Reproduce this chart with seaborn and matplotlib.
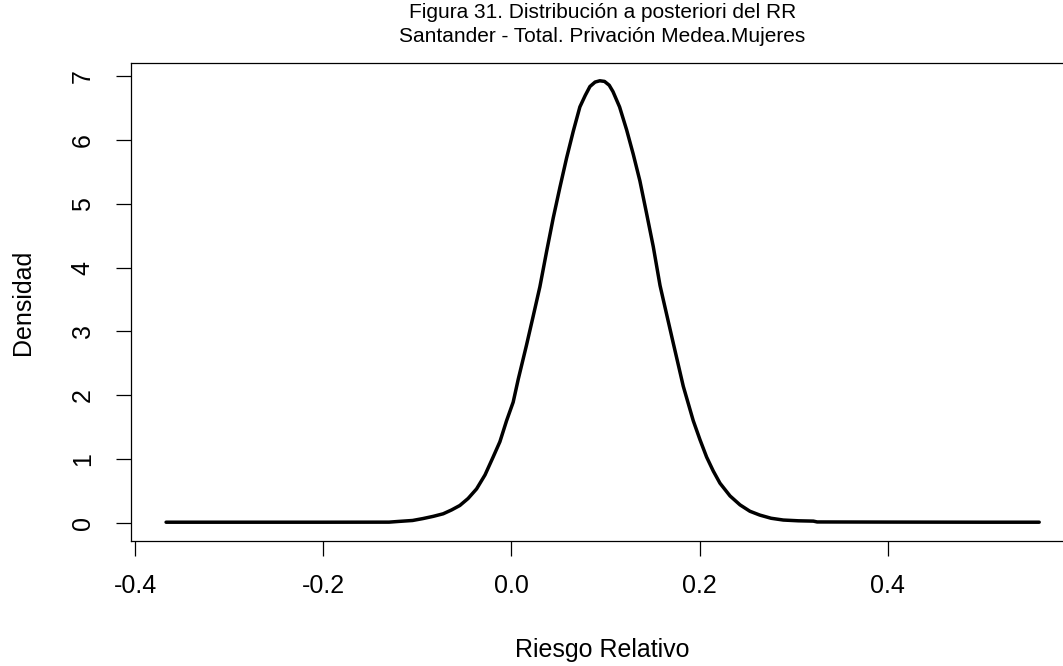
import matplotlib
matplotlib.use("Agg")
import matplotlib.pyplot as plt
import seaborn as sns
import pandas as pd

# ---- data ----
rr_values = [-0.367, -0.30, -0.20, -0.13, -0.12, -0.105, -0.094, -0.083, -0.0725,
             -0.0636, -0.0548, -0.046, -0.037, -0.028, -0.0194, -0.0122, -0.0051,
             0.0019, 0.0073, 0.016, 0.0232, 0.0303, 0.0374, 0.0445, 0.0516, 0.0587,
             0.0658, 0.0728, 0.0785, 0.0835, 0.089, 0.094, 0.099, 0.104, 0.108,
             0.115, 0.1225, 0.1295, 0.1366, 0.1437, 0.1508, 0.158, 0.1614, 0.172,
             0.1827, 0.1933, 0.2005, 0.2075, 0.2146, 0.2217, 0.2324, 0.243, 0.2535,
             0.264, 0.276, 0.289, 0.305, 0.321, 0.325, 0.40, 0.45, 0.50, 0.561]
density_values = [0.008, 0.008, 0.008, 0.009, 0.02, 0.035, 0.065, 0.10, 0.14,
                  0.20, 0.27, 0.38, 0.53, 0.75, 1.03, 1.27, 1.60,
                  1.89, 2.25, 2.78, 3.24, 3.70, 4.25, 4.78, 5.26, 5.72,
                  6.14, 6.52, 6.70, 6.84, 6.91, 6.93, 6.92, 6.86, 6.76,
                  6.52, 6.16, 5.78, 5.36, 4.85, 4.33, 3.72, 3.50, 2.82,
                  2.14, 1.60, 1.30, 1.03, 0.81, 0.62, 0.42, 0.28, 0.18,
                  0.12, 0.07, 0.042, 0.03, 0.025, 0.012, 0.01, 0.009, 0.008, 0.008]
x_ticks = [-0.4, -0.2, 0.0, 0.2, 0.4]
x_tick_labels = ["-0.4", "-0.2", "0.0", "0.2", "0.4"]
y_ticks = [0, 1, 2, 3, 4, 5, 6, 7]
y_tick_labels = ["0", "1", "2", "3", "4", "5", "6", "7"]
title_line1 = "Figura 31. Distribución a posteriori del RR"
title_line2 = "Santander - Total. Privación Medea.Mujeres"
x_label = "Riesgo Relativo"
y_label = "Densidad"

df = pd.DataFrame({"rr": rr_values, "dens": density_values})

sns.set_theme(style="white")
plt.rcParams["font.family"] = ["Liberation Sans", "DejaVu Sans"]
plt.rcParams["text.color"] = "black"

W, H = 1063, 666
fig = plt.figure(figsize=(W / 100, H / 100), dpi=100)
left_px, right_px, top_px, bottom_px = 130.9, 1074.0, 63.3, 540.7
ax = fig.add_axes([left_px / W, 1 - bottom_px / H,
                   (right_px - left_px) / W, (bottom_px - top_px) / H])

sns.lineplot(data=df, x="rr", y="dens", color="black", linewidth=2.5,
             ax=ax, sort=False, legend=False)

ax.set_xlim(-0.4044, 0.598)
ax.set_ylim(-0.282, 7.204)
ax.set_xticks(x_ticks)
ax.set_xticklabels(x_tick_labels)
ax.set_yticks(y_ticks)
ax.set_yticklabels(y_tick_labels, rotation=90, va="center")
ax.set_xlabel("")
ax.set_ylabel("")

for s in ax.spines.values():
    s.set_visible(True)
    s.set_color("black")
    s.set_linewidth(0.9)

ax.tick_params(axis="both", which="major", direction="out", length=11,
               width=0.9, color="black", labelsize=18, labelcolor="black",
               bottom=True, left=True)
ax.tick_params(axis="x", pad=13)
ax.tick_params(axis="y", pad=15)

cx = ((left_px + right_px) / 2) / W
fig.text(cx, 1 - 13 / H, title_line1, ha="center", va="center", fontsize=15)
fig.text(cx, 1 - 37 / H, title_line2, ha="center", va="center", fontsize=15)
fig.text(cx, 1 - 650 / H, x_label, ha="center", va="center", fontsize=18)
fig.text(23 / W, 1 - ((top_px + bottom_px) / 2) / H, y_label, ha="center",
         va="center", rotation=90, fontsize=18)

fig.savefig("out.png", dpi=100, facecolor="white")
